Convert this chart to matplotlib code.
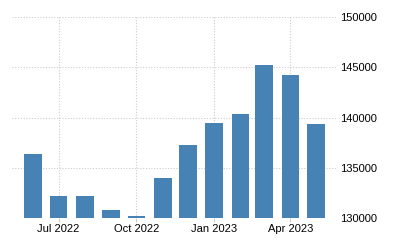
import datetime as dt
import matplotlib
matplotlib.use("Agg")
import matplotlib.pyplot as plt
import matplotlib.dates as mdates
from matplotlib.ticker import FixedLocator

# monthly values, Jun 2022 .. May 2023
months = ["2022-06", "2022-07", "2022-08", "2022-09", "2022-10", "2022-11",
          "2022-12", "2023-01", "2023-02", "2023-03", "2023-04", "2023-05"]
values = [136400, 132200, 132200, 130800, 130200, 134000,
          137250, 139450, 140350, 145200, 144250, 139350]
xtick_months = ["2022-07", "2022-10", "2023-01", "2023-04"]
xtick_labels = ["Jul 2022", "Oct 2022", "Jan 2023", "Apr 2023"]
yticks = [130000, 135000, 140000, 145000, 150000]

to_date = lambda s: dt.datetime.strptime(s + "-01", "%Y-%m-%d")
dates = [to_date(m) for m in months]

plt.rcParams["font.family"] = ["Liberation Sans", "DejaVu Sans"]
fig = plt.figure(figsize=(4, 2.5), dpi=100)
ax = fig.add_axes([0.03, 0.128, 0.8125, 0.804])

ax.bar(dates, values, width=21, color="#4682b4", zorder=2)

ax.set_ylim(130000, 150000)
ax.set_xlim(dt.datetime(2022, 5, 7), dt.datetime(2023, 5, 26))
ax.yaxis.tick_right()
ax.set_yticks(yticks)
ax.set_yticklabels([str(v) for v in yticks])
ax.xaxis.set_major_locator(FixedLocator(mdates.date2num([to_date(m) for m in xtick_months])))
ax.set_xticklabels(xtick_labels)

ax.tick_params(axis="y", length=0, pad=2, labelsize=8, labelcolor="black")
ax.tick_params(axis="x", length=3, color="#cccccc", pad=1, labelsize=8,
               labelcolor="black")
for s in ax.spines.values():
    s.set_visible(False)
ax.grid(True, color="#cccccc", linestyle=(0, (1, 1.5)), linewidth=0.8, zorder=0)

fig.savefig("out.png", dpi=100)
